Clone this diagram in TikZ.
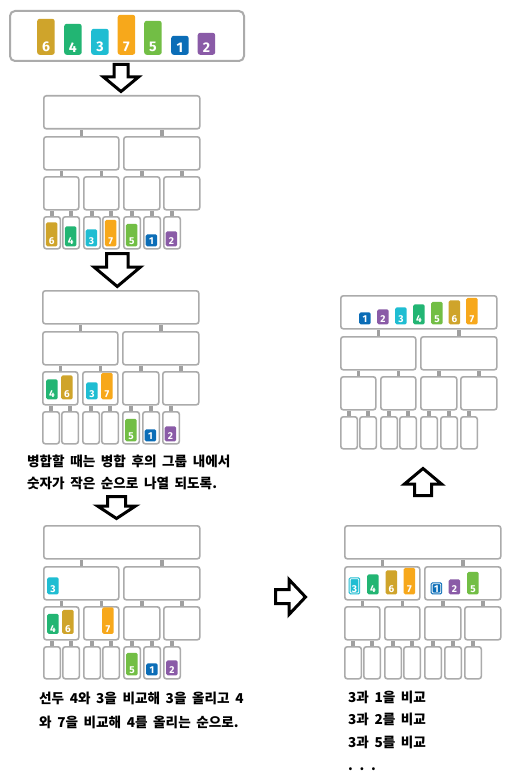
\documentclass[tikz,border=0pt]{standalone}
\usepackage{fontspec}
\newfontfamily\kfont{Noto Sans CJK KR}
\newfontfamily\digfont{Fira Sans}
\definecolor{boxgray}{HTML}{ABABAB}
\definecolor{stubgray}{HTML}{A0A0A0}
\definecolor{cA}{HTML}{0B6DB7}
\definecolor{cB}{HTML}{8A5BA7}
\definecolor{cC}{HTML}{1FBDD2}
\definecolor{cD}{HTML}{22B573}
\definecolor{cE}{HTML}{72BE45}
\definecolor{cF}{HTML}{CFA42B}
\definecolor{cG}{HTML}{F7A81B}
\expandafter\def\csname th1\endcsname{12pt}
\expandafter\def\csname th2\endcsname{15pt}
\expandafter\def\csname th3\endcsname{17pt}
\expandafter\def\csname th4\endcsname{20pt}
\expandafter\def\csname th5\endcsname{22.5pt}
\expandafter\def\csname th6\endcsname{24pt}
\expandafter\def\csname th7\endcsname{26.5pt}
\expandafter\def\csname bh1\endcsname{19pt}
\expandafter\def\csname bh2\endcsname{22pt}
\expandafter\def\csname bh3\endcsname{26pt}
\expandafter\def\csname bh4\endcsname{31pt}
\expandafter\def\csname bh5\endcsname{34pt}
\expandafter\def\csname bh6\endcsname{36pt}
\expandafter\def\csname bh7\endcsname{40pt}
\expandafter\def\csname col1\endcsname{cA}
\expandafter\def\csname col2\endcsname{cB}
\expandafter\def\csname col3\endcsname{cC}
\expandafter\def\csname col4\endcsname{cD}
\expandafter\def\csname col5\endcsname{cE}
\expandafter\def\csname col6\endcsname{cF}
\expandafter\def\csname col7\endcsname{cG}
\newcommand\kwide{\spaceskip=5.6pt\relax}
\tikzset{
  tb/.style={draw=boxgray, line width=1.6pt, rounded corners=2.5pt, inner sep=0pt, anchor=north west, fill=white},
  stub/.style={draw=stubgray, line width=3.6pt},
  barsty/.style={inner sep=0pt, rounded corners=1.5pt, anchor=south west},
  digsty/.style={inner sep=0pt, text=white, font=\digfont\bfseries\fontsize{10pt}{10pt}\selectfont, anchor=south},
  bigdig/.style={inner sep=0pt, text=white, font=\digfont\bfseries\fontsize{14pt}{14pt}\selectfont, anchor=south},
  harrow/.style={draw=black, line width=3pt, fill=white, line join=miter, miter limit=10},
  ktext/.style={inner sep=0pt, anchor=base west, font=\kfont\bfseries\fontsize{13.6pt}{15pt}\selectfont}
}
% tree: prefix, x0, y0
\newcommand\mtree[3]{%
  \begin{scope}[shift={(#2,#3)}]
    \node[tb, minimum width=156pt, minimum height=33pt] (#1r) at (0,0) {};
    \node[tb, minimum width=75pt, minimum height=33pt] (#1a) at (0,41) {};
    \node[tb, minimum width=76pt, minimum height=33pt] (#1b) at (80,41) {};
    \node[tb, minimum width=35pt, minimum height=33pt] (#1aa) at (0,81) {};
    \node[tb, minimum width=35pt, minimum height=33pt] (#1ab) at (40,81) {};
    \node[tb, minimum width=36pt, minimum height=33pt] (#1ba) at (80,81) {};
    \node[tb, minimum width=36pt, minimum height=33pt] (#1bb) at (120,81) {};
    \node[tb, minimum width=16.5pt, minimum height=32pt] (#1l1) at (0,121) {};
    \node[tb, minimum width=16.5pt, minimum height=32pt] (#1l2) at (19,121) {};
    \node[tb, minimum width=16.5pt, minimum height=32pt] (#1l3) at (40,121) {};
    \node[tb, minimum width=16.5pt, minimum height=32pt] (#1l4) at (59,121) {};
    \node[tb, minimum width=16.5pt, minimum height=32pt] (#1l5) at (80,121) {};
    \node[tb, minimum width=16.5pt, minimum height=32pt] (#1l6) at (100,121) {};
    \node[tb, minimum width=16.5pt, minimum height=32pt] (#1l7) at (120,121) {};
    \draw[stub] (#1a.north) -- (#1a.north |- #1r.south);
    \draw[stub] (#1b.north) -- (#1b.north |- #1r.south);
    \draw[stub] (#1aa.north) -- (#1aa.north |- #1a.south);
    \draw[stub] (#1ab.north) -- (#1ab.north |- #1a.south);
    \draw[stub] (#1ba.north) -- (#1ba.north |- #1b.south);
    \draw[stub] (#1bb.north) -- (#1bb.north |- #1b.south);
    \draw[stub] (#1l1.north) -- (#1l1.north |- #1aa.south);
    \draw[stub] (#1l2.north) -- (#1l2.north |- #1aa.south);
    \draw[stub] (#1l3.north) -- (#1l3.north |- #1ab.south);
    \draw[stub] (#1l4.north) -- (#1l4.north |- #1ab.south);
    \draw[stub] (#1l5.north) -- (#1l5.north |- #1ba.south);
    \draw[stub] (#1l6.north) -- (#1l6.north |- #1ba.south);
    \draw[stub] (#1l7.north) -- (#1l7.north |- #1bb.south);
  \end{scope}}
% tree bar: name, digit, xleft, ybottom
\newcommand\tbar[4]{%
  \node[barsty, fill=\csname col#2\endcsname, minimum width=11.5pt, minimum height=\csname th#2\endcsname] (#1) at (#3,#4) {};
  \node[digsty] (#1d) at ([yshift=1.6pt]#1.south) {#2};}
% highlighted tree bar
\newcommand\hlbar[4]{%
  \tbar{#1}{#2}{#3}{#4}%
  \draw[white, line width=0.8pt, rounded corners=1pt] ([xshift=1.6pt,yshift=1.6pt]#1.south west) rectangle ([xshift=-1.6pt,yshift=-1.6pt]#1.north east);}
% big bar
\newcommand\bbar[4]{%
  \node[barsty, rounded corners=2.5pt, fill=\csname col#2\endcsname, minimum width=17.5pt, minimum height=\csname bh#2\endcsname] (#1) at (#3,#4) {};
  \node[bigdig] (#1d) at ([yshift=2.6pt]#1.south) {#2};}

\begin{document}
\begin{tikzpicture}[x=1pt,y=-1pt]
\path[use as bounding box, fill=white] (0,0) rectangle (512,773);

% top bar
\node[draw=boxgray, line width=2pt, rounded corners=5pt, inner sep=0pt, minimum width=234pt, minimum height=50pt, anchor=north west] (top) at (9,10) {};
\bbar{s6}{6}{37}{55}
\bbar{s4}{4}{64}{55}
\bbar{s3}{3}{91}{55}
\bbar{s7}{7}{117.5}{55}
\bbar{s5}{5}{144}{55}
\bbar{s1}{1}{171}{55}
\bbar{s2}{2}{197.5}{55}

% arrows
\draw[harrow] (114,64.5) -- (128,64.5) -- (128,77) -- (138.5,77) -- (121,91.5) -- (103.5,77) -- (114,77) -- cycle;
\draw[harrow] (106.5,253.5) -- (128,253.5) -- (128,267) -- (140.5,267) -- (117.25,286.5) -- (94,267) -- (106.5,267) -- cycle;
\draw[harrow] (107.5,496.5) -- (125.5,496.5) -- (125.5,506) -- (135.5,506) -- (116.5,518.5) -- (97.5,506) -- (107.5,506) -- cycle;
\draw[harrow] (275.5,589.5) -- (289,589.5) -- (289,579.5) -- (305.5,597) -- (289,614.5) -- (289,603.5) -- (275.5,603.5) -- cycle;
\draw[harrow] (414.5,495.5) -- (414.5,484) -- (404.5,484) -- (423,468.5) -- (441.5,484) -- (431.5,484) -- (431.5,495.5) -- cycle;

% tree 1
\mtree{ta}{43}{95}
\tbar{ta6}{6}{45.75}{246.5}
\tbar{ta4}{4}{64.75}{246.5}
\tbar{ta3}{3}{85.5}{246.5}
\tbar{ta7}{7}{104.75}{246.5}
\tbar{ta5}{5}{125.75}{246.5}
\tbar{ta1}{1}{145.5}{246.5}
\tbar{ta2}{2}{165.5}{246.5}

% tree 2
\mtree{tb}{42}{290}
\tbar{tb4}{4}{46}{399.5}
\tbar{tb6}{6}{61}{399.5}
\tbar{tb3}{3}{86}{399.5}
\tbar{tb7}{7}{101}{399.5}
\tbar{tb5}{5}{125}{441.5}
\tbar{tb1}{1}{144.5}{441.5}
\tbar{tb2}{2}{164.5}{441.5}

% tree 3
\mtree{tc}{43}{525}
\tbar{tc3}{3}{47}{594.5}
\tbar{tc4}{4}{47}{634}
\tbar{tc6}{6}{62}{634}
\tbar{tc7}{7}{102}{634}
\tbar{tc5}{5}{126}{675.5}
\tbar{tc1}{1}{146}{675.5}
\tbar{tc2}{2}{166}{675.5}

% tree 4
\mtree{td}{340}{295}
\tbar{td1}{1}{359}{324.5}
\tbar{td2}{2}{377}{324.5}
\tbar{td3}{3}{395}{324.5}
\tbar{td4}{4}{413}{324.5}
\tbar{td5}{5}{431}{324.5}
\tbar{td6}{6}{448.5}{324.5}
\tbar{td7}{7}{466}{324.5}

% tree 5
\mtree{te}{344}{525}
\hlbar{te3}{3}{348.5}{594.5}
\tbar{te4}{4}{367}{594.5}
\tbar{te6}{6}{385.5}{594.5}
\tbar{te7}{7}{403.5}{594.5}
\hlbar{te1}{1}{430.5}{594.5}
\tbar{te2}{2}{448.5}{594.5}
\tbar{te5}{5}{467}{594.5}

% texts
\node[ktext] (k1) at (27,466) {\kwide 병합할 때는 병합 후의 그룹 내에서};
\node[ktext] (k2) at (27,488) {\kwide 숫자가 작은 순으로 나열 되도록.};
\node[ktext] (k3) at (39,703) {\kwide 선두 4와 3을 비교해 3을 올리고 4};
\node[ktext] (k4) at (39,727) {\kwide 와 7을 비교해 4를 올리는 순으로.};
\node[ktext] (k5) at (348,702) {\kwide 3과 1을 비교};
\node[ktext] (k6) at (348,724) {\kwide 3과 2를 비교};
\node[ktext] (k7) at (348,747) {\kwide 3과 5를 비교};
\node[ktext] (k8) at (348,770) {\kwide . . .};
\end{tikzpicture}
\end{document}
